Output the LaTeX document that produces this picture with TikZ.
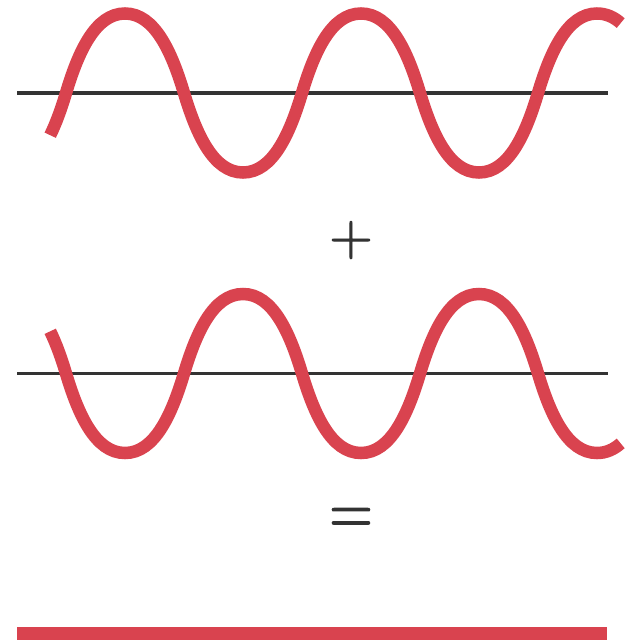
\documentclass[tikz,border=0pt]{standalone}
\usepackage{xcolor}
\usepackage{graphicx}
\usepackage{fontspec}
\usepackage{tikz}
\usetikzlibrary{positioning}
\newfontfamily\signfont[FakeBold=1.5]{Latin Modern Roman}
\definecolor{wavered}{HTML}{D9434F}
\definecolor{axisgray}{HTML}{333333}
% one wave, centred on its own axis (y grows downwards)
\newcommand{\wavepath}{(50.2,42.2) .. controls (56.4,29.5) and (61.6,14.8) .. (66,0)
  .. controls (78,-40) and (95,-79.5) .. (125,-79.5)
  .. controls (155,-79.5) and (172,-40) .. (184,0)
  .. controls (196,40) and (213,79.5) .. (243,79.5)
  .. controls (273,79.5) and (290,40) .. (302,0)
  .. controls (314,-40) and (331,-79.5) .. (361,-79.5)
  .. controls (391,-79.5) and (408,-40) .. (420,0)
  .. controls (432,40) and (449,79.5) .. (479,79.5)
  .. controls (509,79.5) and (526,40) .. (538,0)
  .. controls (550,-40) and (567,-79.5) .. (597,-79.5)
  .. controls (606,-79.5) and (613.8,-76) .. (620.7,-69.9)}

\begin{document}
\begin{tikzpicture}[
   x=1pt, y=-1pt,
   wave/.style={draw=wavered, line width=12.5pt},
   axis/.style={draw=axisgray, line width=3.5pt},
   sign/.style={text=axisgray, anchor=base, inner sep=0pt,
                font=\signfont\fontsize{60}{60}\selectfont}]
  \useasboundingbox (0,0) rectangle (631,642);
  % first wave
  \begin{scope}[shift={(0,93)}]
    \draw[axis] (17,0) -- (608,0);
    \draw[wave] \wavepath;
  \end{scope}
  \node[sign] (plus) at (351,255) {+};
  % second wave, upside down
  \begin{scope}[shift={(0,373.5)}, yscale=-1]
    \draw[axis] (17,0) -- (608,0);
    \draw[wave] \wavepath;
  \end{scope}
  \node[sign] (equals) at (351,535) {\scalebox{1}[1.25]{=}};
  % sum
  \draw[wave] (17,633.5) -- (607,633.5);
\end{tikzpicture}
\end{document}
